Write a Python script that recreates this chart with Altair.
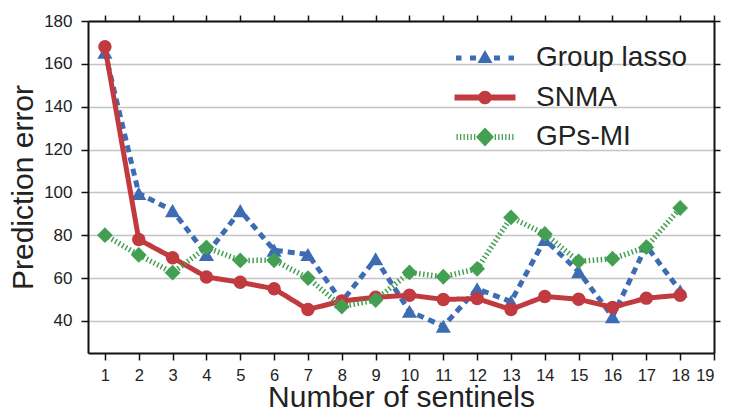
import altair as alt
import pandas as pd

# ---- data ----
sentinels = list(range(1, 19))
group_lasso = [165.5, 99.5, 91.5, 71, 91.5, 73, 71, 49, 69, 44.5, 37.5, 55, 49, 78, 63, 42, 75, 54]
snma = [168, 78, 69.5, 60.5, 58, 55, 45.3, 49.3, 51, 52, 50, 50.4, 45.3, 51.4, 50.1, 46.3, 50.6, 52]
gps_mi = [80, 70.8, 62.5, 74.3, 68.2, 68.3, 60, 46.7, 49.7, 62.6, 60.6, 64.3, 88.3, 80.6, 67.8, 69, 74.4, 92.7]

series_names = ["Group lasso", "SNMA", "GPs-MI"]
colors = ["#3E6CB3", "#C13A40", "#43A052"]
x_ticks = list(range(1, 20))
y_ticks = list(range(40, 181, 20))

rows = []
for name, vals in zip(series_names, [group_lasso, snma, gps_mi]):
    for xv, yv in zip(sentinels, vals):
        rows.append({"n": xv, "err": yv, "series": name})
df = pd.DataFrame(rows)

FONT = "Liberation Sans"

# ---- legend symbol paths (line style + marker), in symbol units ----
def rect(x1, x2, h):
    return f"M{x1},{-h} L{x2},{-h} L{x2},{h} L{x1},{h} Z "

lasso_path = (rect(-2.9, -2.35, 0.25) + rect(-1.5, -0.9, 0.25) + rect(0.9, 1.5, 0.25)
              + rect(2.35, 2.9, 0.25) + "M0,-0.8 L0.75,0.5 L-0.75,0.5 Z")
snma_path = (rect(-3.05, -0.5, 0.3) + rect(0.5, 3.05, 0.3)
             + "M0.68,0 A0.68,0.68 0 1,1 -0.68,0 A0.68,0.68 0 1,1 0.68,0 Z")
gps_path = ""
for p in [-2.85, -2.5, -2.15, -1.8, -1.45, -1.1]:
    gps_path += rect(p, p + 0.13, 0.3) + rect(-p - 0.13, -p, 0.3)
gps_path += "M0,-0.95 L0.9,0 L0,0.95 L-0.9,0 Z"
legend_paths = [lasso_path, snma_path, gps_path]

xscale = alt.Scale(domain=[0.5, 19], nice=False, zero=False)
yscale = alt.Scale(domain=[25, 180], nice=False, zero=False)

x_axis = alt.Axis(values=x_ticks, format="d", grid=False, tickSize=7, labelPadding=7,
                  labelFontSize=16.5, title="Number of sentinels", titleFontSize=30,
                  titleY=53, titleBaseline="alphabetic")
y_axis = alt.Axis(values=y_ticks, grid=True, tickSize=7, labelPadding=9,
                  labelFontSize=17, title="Prediction error", titleFontSize=30,
                  titleAngle=270, titleX=-56, titleY=166, titleAlign="center",
                  titleBaseline="alphabetic")

dash_styles = [[7, 5], [1, 0], [1.5, 2.5]]
widths = [5, 5, 5.5]
shapes = ["triangle-up", "circle", "diamond"]
sizes = [230, 180, 250]

base = alt.Chart(df)
enc_x = alt.X("n:Q", scale=xscale, axis=x_axis)
enc_y = alt.Y("err:Q", scale=yscale, axis=y_axis)
layers = []
for i, name in enumerate(series_names):
    sub = base.transform_filter(alt.datum.series == name)
    line = sub.mark_line(strokeWidth=widths[i], strokeDash=dash_styles[i],
                         color=colors[i]).encode(x=enc_x, y=enc_y)
    pts = sub.mark_point(filled=True, shape=shapes[i], size=sizes[i], opacity=1,
                         color=colors[i]).encode(x=enc_x, y=enc_y)
    layers += [line, pts]

main = alt.layer(*layers)

leg = alt.Legend(orient="none", legendX=383, legendY=23, title=None,
                 labelFontSize=28, labelFont=FONT, labelColor="#222222",
                 labelOffset=37, symbolSize=400, symbolOpacity=1,
                 symbolStrokeWidth=0, rowPadding=11.5, padding=0)

frame = base.mark_point(filled=True, opacity=0, size=400).encode(
    x=alt.X("n:Q", scale=xscale,
            axis=alt.Axis(orient="top", values=x_ticks, labels=False, grid=False,
                          tickSize=6, title=None)),
    y=alt.Y("err:Q", scale=yscale,
            axis=alt.Axis(orient="right", values=y_ticks, labels=False, grid=False,
                          tickSize=6, title=None)),
    color=alt.Color("series:N", scale=alt.Scale(domain=series_names, range=colors), legend=leg),
    shape=alt.Shape("series:N", scale=alt.Scale(domain=series_names, range=legend_paths), legend=leg),
)

chart = alt.layer(main, frame).resolve_axis(x="independent", y="independent").properties(
    width=626, height=332,
    autosize=alt.AutoSizeParams(type="none"),
    padding={"left": 80, "top": 13, "right": 16, "bottom": 58},
).configure_view(stroke=None).configure_axis(
    domainColor="#111111", domainWidth=2, tickColor="#111111", tickWidth=1.5,
    labelColor="#222222", labelFont=FONT, titleFont=FONT, titleColor="#222222",
    titleFontWeight="normal", gridColor="#c4c4c4", gridWidth=1.3,
)

chart.save("out.html", embed_options={"renderer": "svg", "actions": False})
